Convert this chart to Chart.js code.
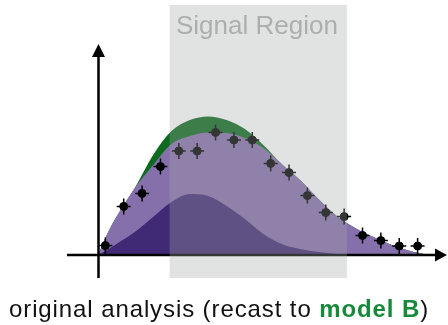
<!DOCTYPE html>
<html>
<head>
<meta charset="utf-8">
<script src="https://cdn.jsdelivr.net/npm/chart.js@4"></script>
<style>
  body { margin: 0; background: #fff; }
  #wrap { position: relative; width: 448px; height: 325px; overflow: hidden; }
  #sr { position: absolute; left: 176px; top: 12px; font: 26px "Liberation Sans", Arial, sans-serif; line-height: 26px; color: #adaeae; white-space: nowrap; }
  #cap { position: absolute; left: 9px; top: 297px; font: 24px "Liberation Sans", Arial, sans-serif; line-height: 24px; letter-spacing: 0.9px; color: #111; white-space: nowrap; }
  #cap b { color: #16893a; }
</style>
</head>
<body>
<div id="wrap">
  <canvas id="chart" width="448" height="325"></canvas>
  <div id="sr">Signal Region</div>
  <div id="cap">original analysis (recast to <b>model B</b>)</div>
</div>
<script>
// curves (smooth shapes)
const curveX = [0, 0.5, 1, 2, 3, 4, 5, 6, 7, 8, 9, 10, 11, 12, 13, 14, 15, 16, 17, 18];
const bkgA = [0, 2.5, 5.5, 11.5, 19, 26.5, 30.5, 29.5, 24.5, 18, 10.5, 5.5, 3, 1.5, 0.5, 0, 0, 0, 0, 0];
const bkgTotal = [0, 10.5, 19, 33.5, 45, 55.5, 59.5, 61.3, 61, 58.5, 53.5, 45.5, 37.5, 28, 19.5, 13.5, 9, 5, 2, 0];
const withSignal = [0, 10.5, 19, 33.5, 50, 62, 67.5, 69.3, 67.5, 63, 55, 45.5, 37.5, 28, 19.5, 13.5, 9, 5, 2, 0];

// data points
const pointX = [0.4, 1.4, 2.4, 3.4, 4.4, 5.4, 6.4, 7.4, 8.4, 9.4, 10.4, 11.4, 12.4, 13.4, 14.4, 15.4, 16.4, 17.4];
const pointY = [4.7, 24.3, 30.8, 44.2, 52, 52, 61.3, 57.5, 57.5, 45.8, 41.2, 29.7, 21.2, 19.2, 9.8, 7.2, 4.5, 4.5];
const yErr = [4, 4, 4, 4, 4, 4, 4, 4, 4, 4, 4, 4, 4, 4, 4, 4, 4, 4];
const xErr = 0.38;

// signal region
const sigLo = 3.9, sigHi = 13.55;
const sigTop = 125, sigBottom = -11.5;

const pts = (xs, ys) => xs.map((x, i) => ({ x: x, y: ys[i] }));

const area = (data, color) => ({
  type: "line",
  data: data,
  fill: "origin",
  backgroundColor: color,
  borderWidth: 0,
  pointRadius: 0,
  cubicInterpolationMode: "monotone",
});

const errorBars = {
  id: "errorBars",
  beforeDatasetDraw(chart, args) {
    if (args.index !== 0) return;
    const x = chart.scales.x, y = chart.scales.y, ctx = chart.ctx;
    ctx.save();
    ctx.strokeStyle = "#000";
    ctx.lineWidth = 1.5;
    pointX.forEach((px, i) => {
      const cx = x.getPixelForValue(px), cy = y.getPixelForValue(pointY[i]);
      ctx.beginPath();
      ctx.moveTo(x.getPixelForValue(px - xErr), cy);
      ctx.lineTo(x.getPixelForValue(px + xErr), cy);
      ctx.moveTo(cx, y.getPixelForValue(pointY[i] - yErr[i]));
      ctx.lineTo(cx, y.getPixelForValue(pointY[i] + yErr[i]));
      ctx.stroke();
    });
    ctx.restore();
  },
};

const axesAndRegion = {
  id: "axesAndRegion",
  afterDatasetsDraw(chart) {
    const { ctx, chartArea: a } = chart;
    const x = chart.scales.x, y = chart.scales.y;
    const ox = a.left + 0.5, oy = a.bottom;
    ctx.save();
    // axes with arrows
    ctx.strokeStyle = "#000";
    ctx.fillStyle = "#000";
    ctx.lineWidth = 2.5;
    ctx.beginPath();
    ctx.moveTo(67, oy);
    ctx.lineTo(a.right - 11, oy);
    ctx.moveTo(ox, 278);
    ctx.lineTo(ox, a.top + 12);
    ctx.stroke();
    ctx.beginPath();
    ctx.moveTo(a.right, oy);
    ctx.lineTo(a.right - 12, oy - 6.5);
    ctx.lineTo(a.right - 12, oy + 6.5);
    ctx.closePath();
    ctx.moveTo(ox, a.top - 1);
    ctx.lineTo(ox - 6.5, a.top + 12);
    ctx.lineTo(ox + 6.5, a.top + 12);
    ctx.closePath();
    ctx.fill();
    // signal region overlay
    const l = x.getPixelForValue(sigLo), r = x.getPixelForValue(sigHi);
    const t = y.getPixelForValue(sigTop), b = y.getPixelForValue(sigBottom);
    ctx.fillStyle = "rgba(162, 164, 164, 0.32)";
    ctx.fillRect(l, t, r - l, b - t);
    ctx.restore();
  },
};

new Chart(document.getElementById("chart"), {
  type: "scatter",
  data: {
    datasets: [
      {
        data: pts(pointX, pointY),
        backgroundColor: "#000",
        borderColor: "#000",
        pointRadius: 4,
        pointHoverRadius: 4,
      },
      area(pts(curveX, bkgA), "#412a75"),
      area(pts(curveX, bkgTotal), "#8670ab"),
      area(pts(curveX, withSignal), "#0d6a1f"),
    ],
  },
  options: {
    responsive: false,
    animation: false,
    layout: { autoPadding: false, padding: { left: 98, right: 1, top: 45, bottom: 70 } },
    plugins: { legend: { display: false }, tooltip: { enabled: false } },
    scales: {
      x: { type: "linear", min: 0, max: 19, display: false },
      y: { min: 0, max: 105, display: false },
    },
  },
  plugins: [errorBars, axesAndRegion],
});
</script>
</body>
</html>
